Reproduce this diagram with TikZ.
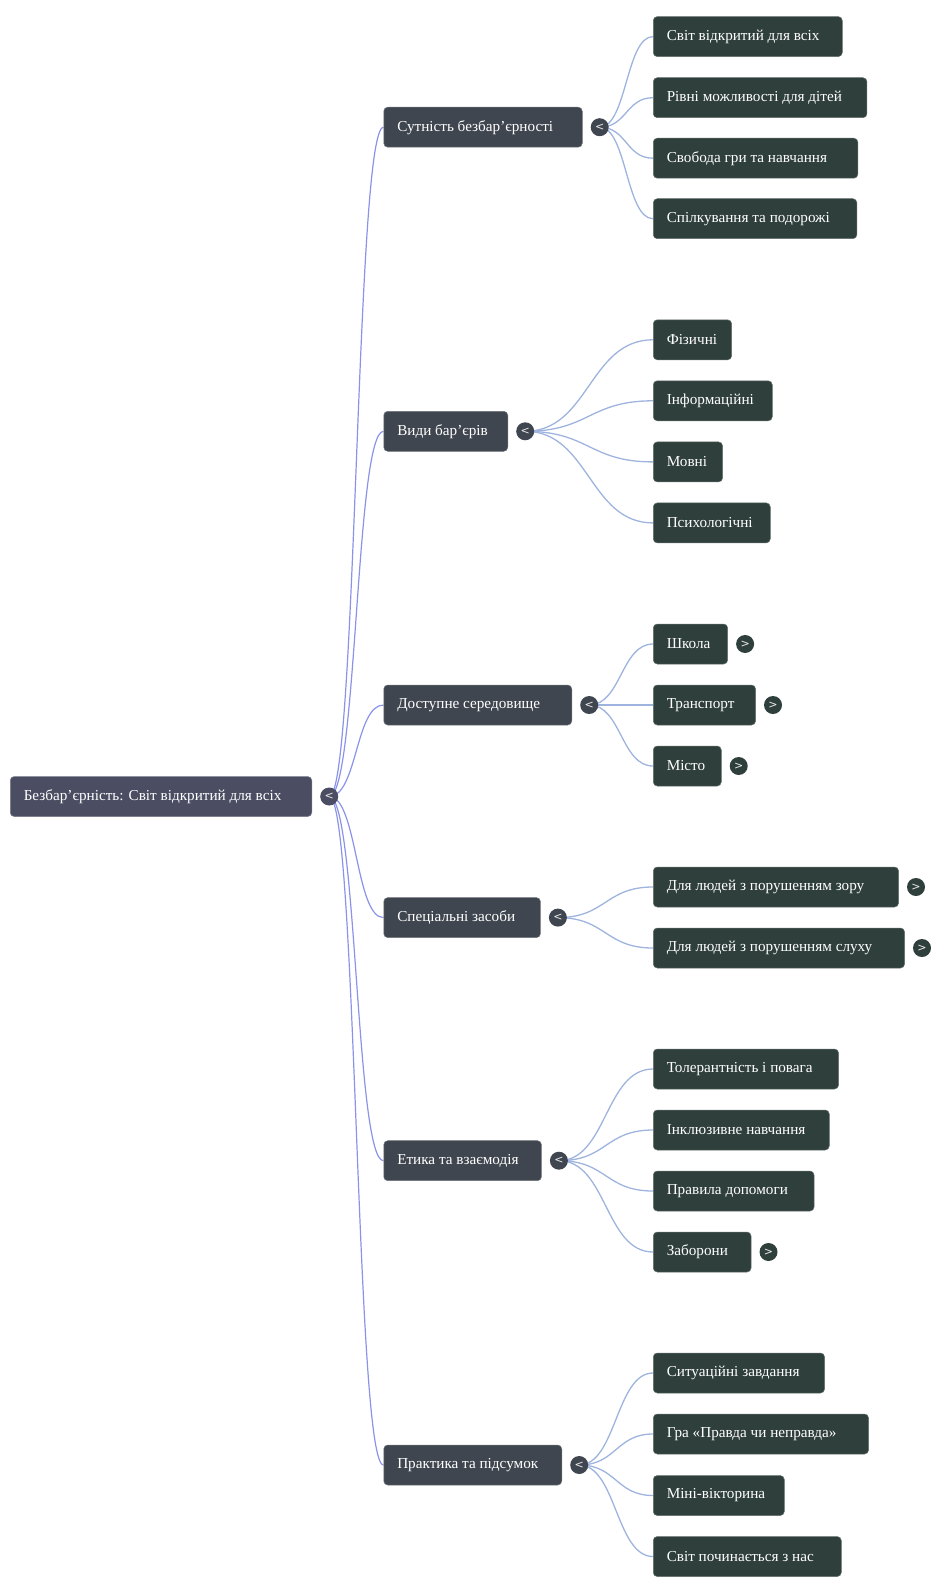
\documentclass[tikz,border=0pt]{standalone}
\usepackage{fontspec}
\setmainfont{Liberation Serif}
\newfontfamily\tgfont{DejaVu Sans}
\usetikzlibrary{positioning,backgrounds}
\definecolor{rootc}{HTML}{4B4D63}
\definecolor{onec}{HTML}{40464F}
\definecolor{twoc}{HTML}{2F3F3C}
\definecolor{rlink}{HTML}{8A93E8}
\definecolor{clink}{HTML}{9EB4DE}
\tikzset{
  basebox/.style={rounded corners=4pt, minimum height=40pt, inner xsep=13.5pt, inner ysep=0pt, anchor=west, align=flush left, text=white, font=\fontsize{15.2}{17}\selectfont, line width=0.5pt},
  rootbox/.style={basebox, fill=rootc, draw=rootc!75!white},
  onebox/.style={basebox, fill=onec, draw=onec!75!white},
  twobox/.style={basebox, fill=twoc, draw=twoc!75!white},
  tw/.style={text width=#1pt},
  tgbase/.style={circle, minimum size=18pt, inner sep=0pt, text=white!92!black, font=\tgfont\fontsize{11}{11}\selectfont},
  tgroot/.style={tgbase, fill=rootc},
  tgone/.style={tgbase, fill=onec},
  tgtwo/.style={tgbase, fill=twoc},
  rl/.style={draw=rlink, line width=1.2pt},
  cl/.style={draw=clink, line width=1.3pt},
}
\begin{document}
\begin{tikzpicture}[x=1pt,y=-1pt]
\useasboundingbox (0,0) rectangle (940,1595);
% root
\node[rootbox, tw=274.5] (r) at (10,796.5) {Безбар’єрність: Світ відкритий для всіх};
\node[tgroot, right=8pt of r] (rt) {<};
% level 1
\node[onebox, tw=171.5] (a) at (383.5,127.2) {Сутність безбар’єрності};
\node[tgone, right=8pt of a] (at) {<};
\node[onebox, tw=97] (b) at (383.5,431.3) {Види бар’єрів};
\node[tgone, right=8pt of b] (bt) {<};
\node[onebox, tw=161] (c) at (383.5,705) {Доступне середовище};
\node[tgone, right=8pt of c] (ct) {<};
\node[onebox, tw=129.7] (d) at (383.5,917.6) {Спеціальні засоби};
\node[tgone, right=8pt of d] (dt) {<};
\node[onebox, tw=130.7] (e) at (383.5,1160.7) {Етика та взаємодія};
\node[tgone, right=8pt of e] (et) {<};
\node[onebox, tw=151] (f) at (383.5,1465) {Практика та підсумок};
\node[tgone, right=8pt of f] (ft) {<};
% level 2
\node[twobox, tw=162] (a1) at (653,36.6) {Світ відкритий для всіх};
\node[twobox, tw=186.7] (a2) at (653,97.7) {Рівні можливості для дітей};
\node[twobox, tw=177.6] (a3) at (653,158.2) {Свобода гри та навчання};
\node[twobox, tw=176.6] (a4) at (653,218.7) {Спілкування та подорожі};
\node[twobox, tw=51.4] (b1) at (653,339.8) {Фізичні};
\node[twobox, tw=92] (b2) at (653,400.8) {Інформаційні};
\node[twobox, tw=42.3] (b3) at (653,461.9) {Мовні};
\node[twobox, tw=90] (b4) at (653,522.9) {Психологічні};
\node[twobox, tw=47.4] (c1) at (653,644) {Школа};
\node[tgtwo, right=8pt of c1] (c1t) {>};
\node[twobox, tw=75.3] (c2) at (653,705) {Транспорт};
\node[tgtwo, right=8pt of c2] (c2t) {>};
\node[twobox, tw=41] (c3) at (653,766) {Місто};
\node[tgtwo, right=8pt of c3] (c3t) {>};
\node[twobox, tw=218.3] (d1) at (653,887) {Для людей з порушенням зору};
\node[tgtwo, right=8pt of d1] (d1t) {>};
\node[twobox, tw=224.3] (d2) at (653,948) {Для людей з порушенням слуху};
\node[tgtwo, right=8pt of d2] (d2t) {>};
\node[twobox, tw=158.3] (e1) at (653,1069) {Толерантність і повага};
\node[twobox, tw=149] (e2) at (653,1130) {Інклюзивне навчання};
\node[twobox, tw=133.8] (e3) at (653,1191) {Правила допомоги};
\node[twobox, tw=70.8] (e4) at (653,1252) {Заборони};
\node[tgtwo, right=8pt of e4] (e4t) {>};
\node[twobox, tw=144.3] (f1) at (653,1373) {Ситуаційні завдання};
\node[twobox, tw=188.3] (f2) at (653,1434) {Гра «Правда чи неправда»};
\node[twobox, tw=104] (f3) at (653,1495.5) {Міні-вікторина};
\node[twobox, tw=161] (f4) at (653,1556.5) {Світ починається з нас};
\begin{scope}[on background layer]
\foreach \n in {a,b,c,d,e,f}
  \draw[rl] (rt.center) .. controls +(28,0) and +(-28,0) .. (\n.west);
\foreach \p/\q/\d in {at/a1/27,at/a2/27,at/a3/27,at/a4/27,bt/b1/64,bt/b2/64,bt/b3/64,bt/b4/64,ct/c1/32,ct/c2/32,ct/c3/32,dt/d1/48,dt/d2/48,et/e1/48,et/e2/48,et/e3/48,et/e4/48,ft/f1/37,ft/f2/37,ft/f3/37,ft/f4/37}
  \draw[cl] (\p.center) .. controls +(\d,0) and +(-\d,0) .. (\q.west);
\end{scope}
\end{tikzpicture}
\end{document}
